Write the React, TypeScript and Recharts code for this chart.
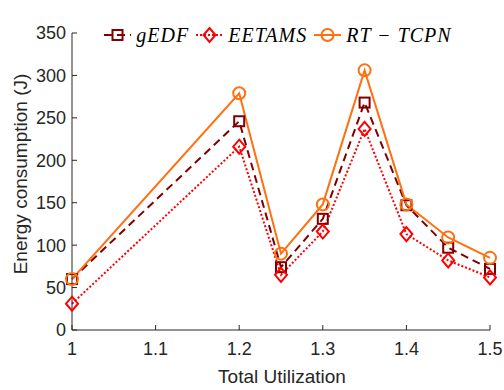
import { Legend, Line, LineChart, XAxis, YAxis } from "recharts";

const utilization = [1, 1.2, 1.25, 1.3, 1.35, 1.4, 1.45, 1.5];
const gEdf = [60, 246, 74, 131, 268, 147, 97, 72];
const eetams = [31, 216, 65, 116, 237, 113, 82, 62];
const rtTcpn = [60, 279, 90, 148, 306, 148, 109, 85];
const xTicks = [1, 1.1, 1.2, 1.3, 1.4, 1.5];
const yTicks = [0, 50, 100, 150, 200, 250, 300, 350];

const MAROON = "#800000";
const RED = "#ff0000";
const ORANGE = "#ff7010";
const AXIS = "#262626";
const SANS = "'Liberation Sans', Arial, sans-serif";

const data = utilization.map((u, i) => ({
  u,
  gEdf: gEdf[i],
  eetams: eetams[i],
  rtTcpn: rtTcpn[i]
}));

function Square({ cx, cy }: { cx?: number; cy?: number }) {
  if (cx == null || cy == null) return null;
  return <rect x={cx - 5} y={cy - 5} width={10} height={10} fill="none" stroke={MAROON} strokeWidth={2} />;
}

function Diamond({ cx, cy }: { cx?: number; cy?: number }) {
  if (cx == null || cy == null) return null;
  return (
    <polygon
      points={`${cx},${cy - 7} ${cx + 6},${cy} ${cx},${cy + 7} ${cx - 6},${cy}`}
      fill="none"
      stroke={RED}
      strokeWidth={2}
    />
  );
}

function Ring({ cx, cy }: { cx?: number; cy?: number }) {
  if (cx == null || cy == null) return null;
  return <circle cx={cx} cy={cy} r={6} fill="none" stroke={ORANGE} strokeWidth={2} />;
}

const legendItems = [
  { name: "gEDF", color: MAROON, dash: "8 5", Marker: Square },
  { name: "EETAMS", color: RED, dash: "2 2", Marker: Diamond },
  { name: "RT − TCPN", color: ORANGE, dash: undefined, Marker: Ring }
];

function LegendContent() {
  return (
    <div style={{ display: "flex", justifyContent: "center", alignItems: "center", gap: 7 }}>
      {legendItems.map(({ name, color, dash, Marker }) => (
        <div key={name} style={{ display: "flex", alignItems: "center", gap: 5 }}>
          <svg width={27} height={18}>
            <line x1={0} y1={9} x2={27} y2={9} stroke={color} strokeWidth={2} strokeDasharray={dash} />
            <Marker cx={13.5} cy={9} />
          </svg>
          <span
            style={{
              fontFamily: "'Liberation Serif', 'DejaVu Serif', serif",
              fontStyle: "italic",
              fontSize: 20,
              lineHeight: "20px",
              color: "#000",
              letterSpacing: 1
            }}
          >
            {name}
          </span>
        </div>
      ))}
    </div>
  );
}

export default function App() {
  return (
    <div style={{ position: "absolute", left: 0, top: 0, background: "#fff" }}>
      <LineChart width={504} height={390} data={data} margin={{ top: 13, right: 14, bottom: 0, left: 0 }}>
        <XAxis
          dataKey="u"
          type="number"
          domain={[1, 1.5]}
          ticks={xTicks}
          height={60}
          stroke={AXIS}
          tickSize={-5}
          tickMargin={17}
          tick={{ fill: AXIS, fontSize: 18, fontFamily: SANS }}
          label={{
            content: () => (
              <text x={282} y={376} textAnchor="middle" dominantBaseline="central" fill={AXIS} fontSize={19} fontFamily={SANS}>
                Total Utilization
              </text>
            )
          }}
        />
        <YAxis
          type="number"
          domain={[0, 350]}
          ticks={yTicks}
          width={72}
          stroke={AXIS}
          tickSize={-5}
          tickMargin={11}
          tick={{ fill: AXIS, fontSize: 18, fontFamily: SANS }}
          label={{
            content: () => (
              <text
                x={20}
                y={174}
                transform="rotate(-90 20 174)"
                textAnchor="middle"
                dominantBaseline="central"
                fill={AXIS}
                fontSize={19}
                fontFamily={SANS}
              >
                Energy consumption (J)
              </text>
            )
          }}
        />
        <Legend verticalAlign="top" wrapperStyle={{ top: 25, left: 26, width: 504 }} content={() => <LegendContent />} />
        <Line
          dataKey="gEdf"
          stroke={MAROON}
          strokeWidth={2}
          strokeDasharray="8 5"
          dot={(p: any) => <Square key={`gs-${p.index}`} cx={p.cx} cy={p.cy} />}
          isAnimationActive={false}
        />
        <Line
          dataKey="eetams"
          stroke={RED}
          strokeWidth={2}
          strokeDasharray="2 2"
          dot={(p: any) => <Diamond key={`ed-${p.index}`} cx={p.cx} cy={p.cy} />}
          isAnimationActive={false}
        />
        <Line
          dataKey="rtTcpn"
          stroke={ORANGE}
          strokeWidth={2}
          dot={(p: any) => <Ring key={`rc-${p.index}`} cx={p.cx} cy={p.cy} />}
          isAnimationActive={false}
        />
      </LineChart>
    </div>
  );
}
